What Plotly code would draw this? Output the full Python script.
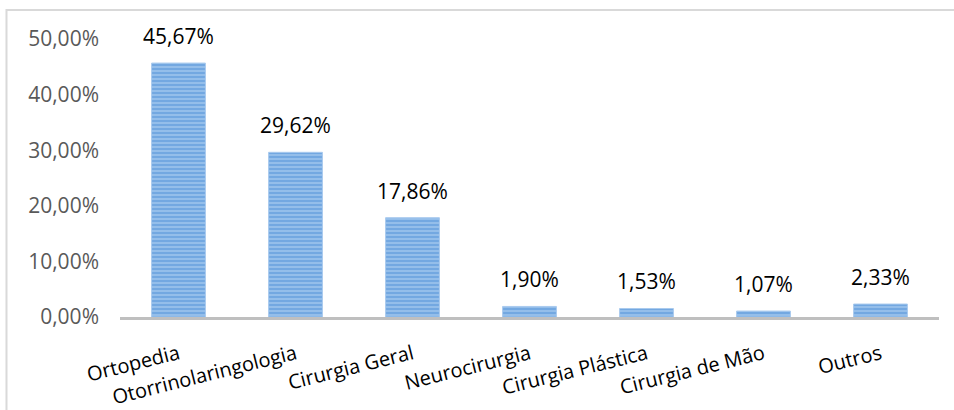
import plotly.graph_objects as go

categories = ["Ortopedia", "Otorrinolaringologia", "Cirurgia Geral", "Neurocirurgia",
              "Cirurgia Plástica", "Cirurgia de Mão", "Outros"]
values = [45.67, 29.62, 17.86, 1.90, 1.53, 1.07, 2.33]
y_ticks = [0, 10, 20, 30, 40, 50]
y_tick_labels = ["0,00%", "10,00%", "20,00%", "30,00%", "40,00%", "50,00%"]

FONT = "Open Sans"

fig = go.Figure()
fig.add_trace(go.Bar(
    x=categories, y=values,
    width=0.46,
    marker=dict(
        color="#7fb0e3",
        line=dict(color="#a9caee", width=1),
        pattern=dict(shape="-", fgcolor="#4a8dd6", bgcolor="#9cc3ec",
                     size=4, solidity=0.6, fillmode="overlay"),
    ),
    hoverinfo="skip",
))

for c, v in zip(categories, values):
    fig.add_annotation(
        x=c, y=v, text=f"{v:.2f}%".replace(".", ","),
        showarrow=False, yanchor="bottom", yshift=11,
        font=dict(family=FONT, size=21, color="#000000"),
    )

# outer chart border (partially cropped at right/bottom)
fig.add_shape(type="rect", xref="paper", yref="paper",
              x0=-0.1386, x1=1.05, y0=-0.5, y1=1.1045,
              line=dict(color="#d9d9d9", width=2), layer="below")

fig.update_layout(
    width=954, height=410,
    margin=dict(l=120, r=15, t=39, b=93),
    paper_bgcolor="white", plot_bgcolor="white",
    showlegend=False,
    font=dict(family=FONT, size=21, color="#000000"),
    xaxis=dict(
        type="category",
        automargin=False,
        showline=True, linecolor="#bfbfbf", linewidth=3,
        showgrid=False, ticks="",
        tickangle=-14,
        tickfont=dict(family=FONT, size=20, color="#000000"),
        ticklabelstandoff=15,
    ),
    yaxis=dict(
        range=[0, 50],
        automargin=False,
        tickvals=y_ticks, ticktext=y_tick_labels,
        showgrid=False, showline=False, zeroline=False, ticks="",
        tickfont=dict(family=FONT, size=21, color="#595959"),
        ticklabelstandoff=20,
    ),
)

fig.write_html("out.html")
